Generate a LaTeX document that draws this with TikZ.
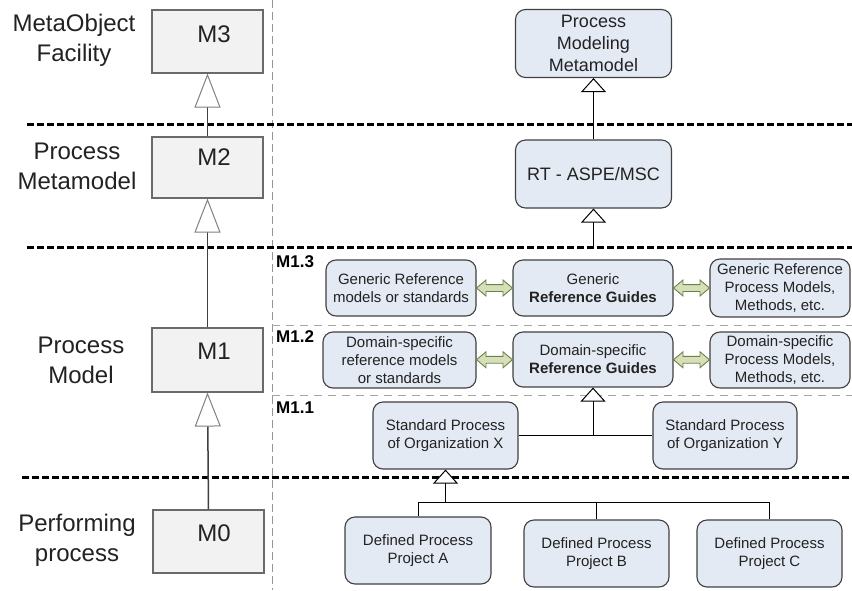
\documentclass[tikz,border=0pt]{standalone}
\usepackage{fontspec}
\setmainfont{Liberation Sans}
\usetikzlibrary{arrows.meta,shapes.arrows,calc}
\definecolor{boxfill}{HTML}{E4EAF4}
\definecolor{boxdraw}{HTML}{404040}
\definecolor{mfill}{HTML}{F2F2F2}
\definecolor{mdraw}{HTML}{6A6A6A}
\definecolor{txt}{HTML}{222222}
\definecolor{arrfill}{HTML}{D5E0B8}
\definecolor{arrdraw}{HTML}{6F7F4A}
\definecolor{sepgray}{HTML}{A6A6A6}
\definecolor{tipgray}{HTML}{808080}
\begin{document}
\begin{tikzpicture}[x=1pt,y=-1pt,
  mbox/.style={draw=mdraw,line width=1.1pt,fill=mfill,inner sep=0pt},
  mtext/.style={text=txt,font=\fontsize{24}{29}\selectfont,inner sep=0pt},
  lvl/.style={text=txt,font=\fontsize{24}{30}\selectfont,align=center,inner sep=0pt},
  rbox/.style={draw=boxdraw,line width=1.1pt,fill=boxfill,rounded corners=10pt,
    align=center,text=txt,inner sep=0pt,font=\fontsize{15}{18}\selectfont},
  bigtext/.style={font=\fontsize{18}{22}\selectfont},
  sublvl/.style={text=black,font=\bfseries\fontsize{17}{17}\selectfont,anchor=base west,inner sep=0pt},
  darr/.style={shape=double arrow,double arrow head extend=4.5pt,double arrow tip angle=80,
    minimum height=36pt,inner xsep=0pt,inner ysep=3pt,draw=arrdraw,fill=arrfill,line width=0.9pt},
  larr/.style={draw=boxdraw,line width=1.5pt,
    -{Triangle[width=26pt,length=34pt,fill=white,color=tipgray,line width=1pt]}},
  rarr/.style={draw=black,line width=1pt,
    -{Triangle[width=25pt,length=14pt,fill=white,line width=1pt]}},
  conn/.style={draw=black,line width=1pt},
  thickdash/.style={draw=black,line width=3pt,dash pattern=on 6.5pt off 3.5pt},
  thindash/.style={draw=sepgray,line width=1pt,dash pattern=on 8pt off 6pt},
  vdash/.style={draw=sepgray!90!black,line width=0.9pt,dash pattern=on 8pt off 4pt}]
\useasboundingbox (0,0) rectangle (852,590);
\fill[white] (0,0) rectangle (852,590);

% separators
\draw[vdash] (272,0) -- (272,590);
\draw[thindash] (272,325) -- (852,325);
\draw[thindash] (272,395) -- (852,395);

% left column boxes
\node[mbox,minimum width=111pt,minimum height=63pt] (m3) at (207.5,41.5) {};
\node[mbox,minimum width=111pt,minimum height=61pt] (m2) at (207.5,167.5) {};
\node[mbox,minimum width=111pt,minimum height=64pt] (m1) at (207.5,360) {};
\node[mbox,minimum width=111pt,minimum height=63pt] (m0) at (208.5,541.5) {};
\node[mtext] (m3t) at (214,34) {M3};
\node[mtext] (m2t) at (214,157.5) {M2};
\node[mtext] (m1t) at (214,351) {M1};
\node[mtext] (m0t) at (214,533) {M0};

\node[lvl] (l3) at (74,40) {MetaObject\\Facility};
\node[lvl] (l2) at (77,166) {Process\\Metamodel};
\node[lvl] (l1) at (81,360) {Process\\Model};
\node[lvl] (l0) at (77,540) {Performing\\process};

% right column boxes
\node[rbox,bigtext,minimum width=156pt,minimum height=68pt] (pmm) at (593.5,43.5) {Process\\Modeling\\Metamodel};
\node[rbox,bigtext,minimum width=156pt,minimum height=68pt] (rt) at (593.5,174) {RT - ASPE/MSC};

\node[rbox,minimum width=150pt,minimum height=56pt] (l13) at (401,288) {Generic Reference\\models or standards};
\node[rbox,minimum width=160pt,minimum height=56pt] (c13) at (593,288) {Generic\\\textbf{Reference Guides}};
\node[rbox,minimum width=140pt,minimum height=58pt] (r13) at (780,288) {Generic Reference\\Process Models,\\Methods, etc.};

\node[rbox,minimum width=153pt,minimum height=56pt] (l12) at (399.5,360) {Domain-specific\\reference models\\or standards};
\node[rbox,minimum width=160pt,minimum height=55pt] (c12) at (593,359.5) {Domain-specific\\\textbf{Reference Guides}};
\node[rbox,minimum width=140pt,minimum height=56pt] (r12) at (780,360) {Domain-specific\\Process Models,\\Methods, etc.};

\node[rbox,minimum width=145pt,minimum height=67pt] (sx) at (445.5,435.5) {Standard Process\\of Organization X};
\node[rbox,minimum width=144pt,minimum height=67pt] (sy) at (725,435.5) {Standard Process\\of Organization Y};

\node[rbox,minimum width=146pt,minimum height=67pt] (pa) at (418,550.5) {Defined Process\\Project A};
\node[rbox,minimum width=145pt,minimum height=67pt] (pb) at (596.5,553.5) {Defined Process\\Project B};
\node[rbox,minimum width=145pt,minimum height=67pt] (pc) at (769.5,553.5) {Defined Process\\Project C};

% sub level labels
\node[sublvl] (s13) at (276,267) {M1.3};
\node[sublvl] (s12) at (276,342) {M1.2};
\node[sublvl] (s11) at (276,413.5) {M1.1};

% double arrows
\node[darr] (da1) at ($(l13.east)!0.5!(c13.west)$) {};
\node[darr] (da2) at ($(c13.east)!0.5!(r13.west)$) {};
\node[darr] (da3) at ($(l12.east)!0.5!(c12.west)$) {};
\node[darr] (da4) at ($(c12.east)!0.5!(r12.west)$) {};

% level separators
\draw[thickdash] (27,124) -- (852,124);
\draw[thickdash] (27,247) -- (852,247);
\draw[thickdash] (22,477) -- (852,477);

% left connectors
\draw[larr] (m2.north) -- (m3.south);
\draw[larr] (m1.north) -- (m2.south);
\draw[larr] (m0.north) -- (m1.south);

% right connectors
\coordinate (top1) at (593.5,247);
\draw[rarr] (rt.north) -- (pmm.south);
\draw[rarr] (top1) -- (rt.south);
\draw[conn] (sx.east) -- (sy.west);
\draw[rarr] (sx.east -| c12.south) -- (c12.south);
\coordinate (bus) at (445.5,502);
\draw[conn] (pa.north) -- (pa.north |- bus) -- (pc.north |- bus) -- (pc.north);
\draw[conn] (pb.north) -- (pb.north |- bus);
\draw[rarr] (bus) -- (sx.south);
\end{tikzpicture}
\end{document}
